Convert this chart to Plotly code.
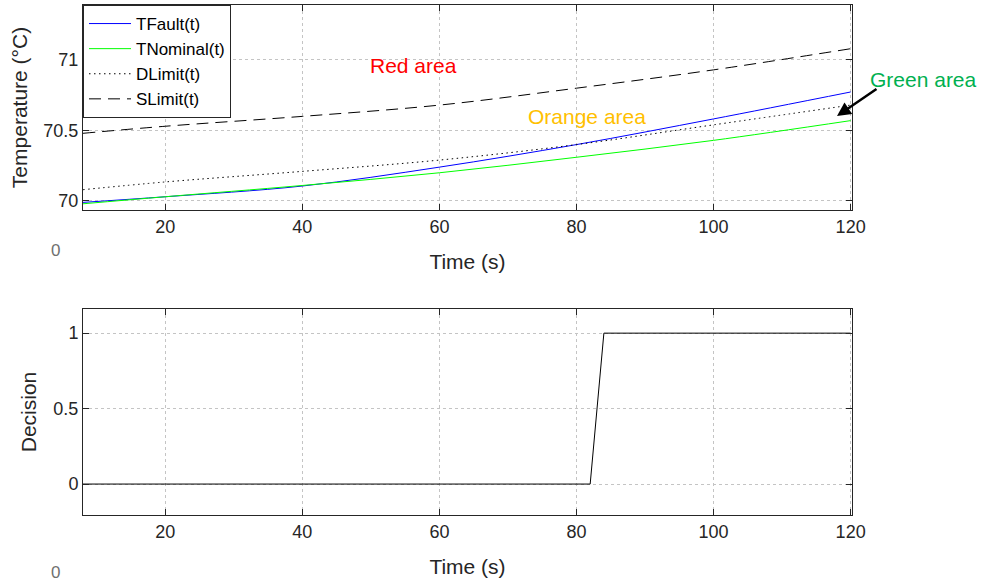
import plotly.graph_objects as go

t = [8, 20, 40, 60, 80, 100, 120]
t_fault = [69.99, 70.03, 70.106, 70.24, 70.40, 70.582, 70.773]
t_nominal = [69.98, 70.03, 70.11, 70.20, 70.31, 70.43, 70.57]
d_limit = [70.08, 70.135, 70.21, 70.29, 70.40, 70.54, 70.68]
s_limit = [70.48, 70.53, 70.60, 70.68, 70.80, 70.93, 71.08]

t_dec = [8, 82, 84, 120]
decision = [0, 0, 1, 1]

FONT = "Liberation Sans, Arial, sans-serif"
W, H = 983, 586
L, R = 83, 131
PW = W - L - R

fig = go.Figure()
fig.add_trace(go.Scatter(x=t, y=t_fault, name="TFault(t)", mode="lines",
                         line=dict(color="rgb(0,0,255)", width=1, shape="spline"), xaxis="x", yaxis="y"))
fig.add_trace(go.Scatter(x=t, y=t_nominal, name="TNominal(t)", mode="lines",
                         line=dict(color="rgb(0,255,0)", width=1, shape="spline"), xaxis="x", yaxis="y"))
fig.add_trace(go.Scatter(x=t, y=d_limit, name="DLimit(t)", mode="lines",
                         line=dict(color="black", width=1, dash="1.5px,3.5px", shape="spline"), xaxis="x", yaxis="y"))
fig.add_trace(go.Scatter(x=t, y=s_limit, name="SLimit(t)", mode="lines",
                         line=dict(color="black", width=1, dash="12px,7px", shape="spline"), xaxis="x", yaxis="y"))
fig.add_trace(go.Scatter(x=t_dec, y=decision, name="Decision", mode="lines", showlegend=False,
                         line=dict(color="black", width=1), xaxis="x2", yaxis="y2"))

axis_common = dict(showline=True, linecolor="#262626", linewidth=1, mirror="ticks",
                   ticks="inside", ticklen=6, tickcolor="#262626",
                   showgrid=True, gridcolor="#c4c4c4", griddash="dot", gridwidth=1,
                   zeroline=False, tickfont=dict(family=FONT, size=18, color="#262626"))
title_font = dict(size=21, family=FONT, color="#262626")

top_dom = [1 - 210 / H, 1 - 5 / H]
bot_dom = [1 - 515 / H, 1 - 309 / H]

fig.update_layout(
    width=W, height=H,
    margin=dict(l=L, r=R, t=0, b=0),
    paper_bgcolor="white", plot_bgcolor="white",
    font=dict(family=FONT, color="#262626"),
    xaxis=dict(axis_common, domain=[0, 1], range=[8, 120.2], tickvals=[20, 40, 60, 80, 100, 120],
               anchor="y", title=dict(text="Time (s)", font=title_font, standoff=18)),
    yaxis=dict(axis_common, domain=top_dom, range=[69.936, 71.39], tickvals=[70, 70.5, 71],
               ticktext=["70", "70.5", "71"], anchor="x",
               title=dict(text="Temperature (°C)", font=title_font, standoff=10)),
    xaxis2=dict(axis_common, domain=[0, 1], range=[8, 120.2], tickvals=[20, 40, 60, 80, 100, 120],
                anchor="y2", title=dict(text="Time (s)", font=title_font, standoff=18)),
    yaxis2=dict(axis_common, domain=bot_dom, range=[-0.205, 1.16], tickvals=[0, 0.5, 1],
                ticktext=["0", "0.5", "1"], anchor="x2",
                title=dict(text="Decision", font=title_font, standoff=11)),
    legend=dict(x=0, y=top_dom[1], xanchor="left", yanchor="top", bgcolor="white",
                bordercolor="#262626", borderwidth=1, font=dict(family=FONT, size=17, color="black"),
                tracegroupgap=0, itemwidth=42),
    showlegend=True,
)

fig.add_annotation(x=56.25, y=70.96, xref="x", yref="y", text="Red area", showarrow=False,
                   xanchor="center", yanchor="middle",
                   font=dict(family=FONT, size=21, color="red"))
fig.add_annotation(x=81.6, y=70.6, xref="x", yref="y", text="Orange area", showarrow=False,
                   xanchor="center", yanchor="middle",
                   font=dict(family=FONT, size=21, color="rgb(255,192,0)"))
fig.add_annotation(x=(923 - L) / PW, y=1 - 79 / H, xref="paper", yref="paper", text="Green area",
                   showarrow=False, xanchor="center", yanchor="middle",
                   font=dict(family=FONT, size=21, color="rgb(0,176,80)"))
fig.add_annotation(x=(837 - L) / PW, y=1 - 116 / H, xref="paper", yref="paper", ax=41, ay=-28,
                   text="", showarrow=True, arrowhead=2, arrowsize=1.1, arrowwidth=2.5, arrowcolor="black")
fig.add_annotation(x=(55 - L) / PW, y=1 - 250 / H, xref="paper", yref="paper", text="0", showarrow=False,
                   xanchor="center", yanchor="middle",
                   font=dict(family=FONT, size=17, color="#707070"))
fig.add_annotation(x=(55 - L) / PW, y=1 - 572 / H, xref="paper", yref="paper", text="0", showarrow=False,
                   xanchor="center", yanchor="middle",
                   font=dict(family=FONT, size=17, color="#707070"))

fig.write_html("out.html", config={"displayModeBar": False},
               post_script="document.body.style.margin='0px';")
